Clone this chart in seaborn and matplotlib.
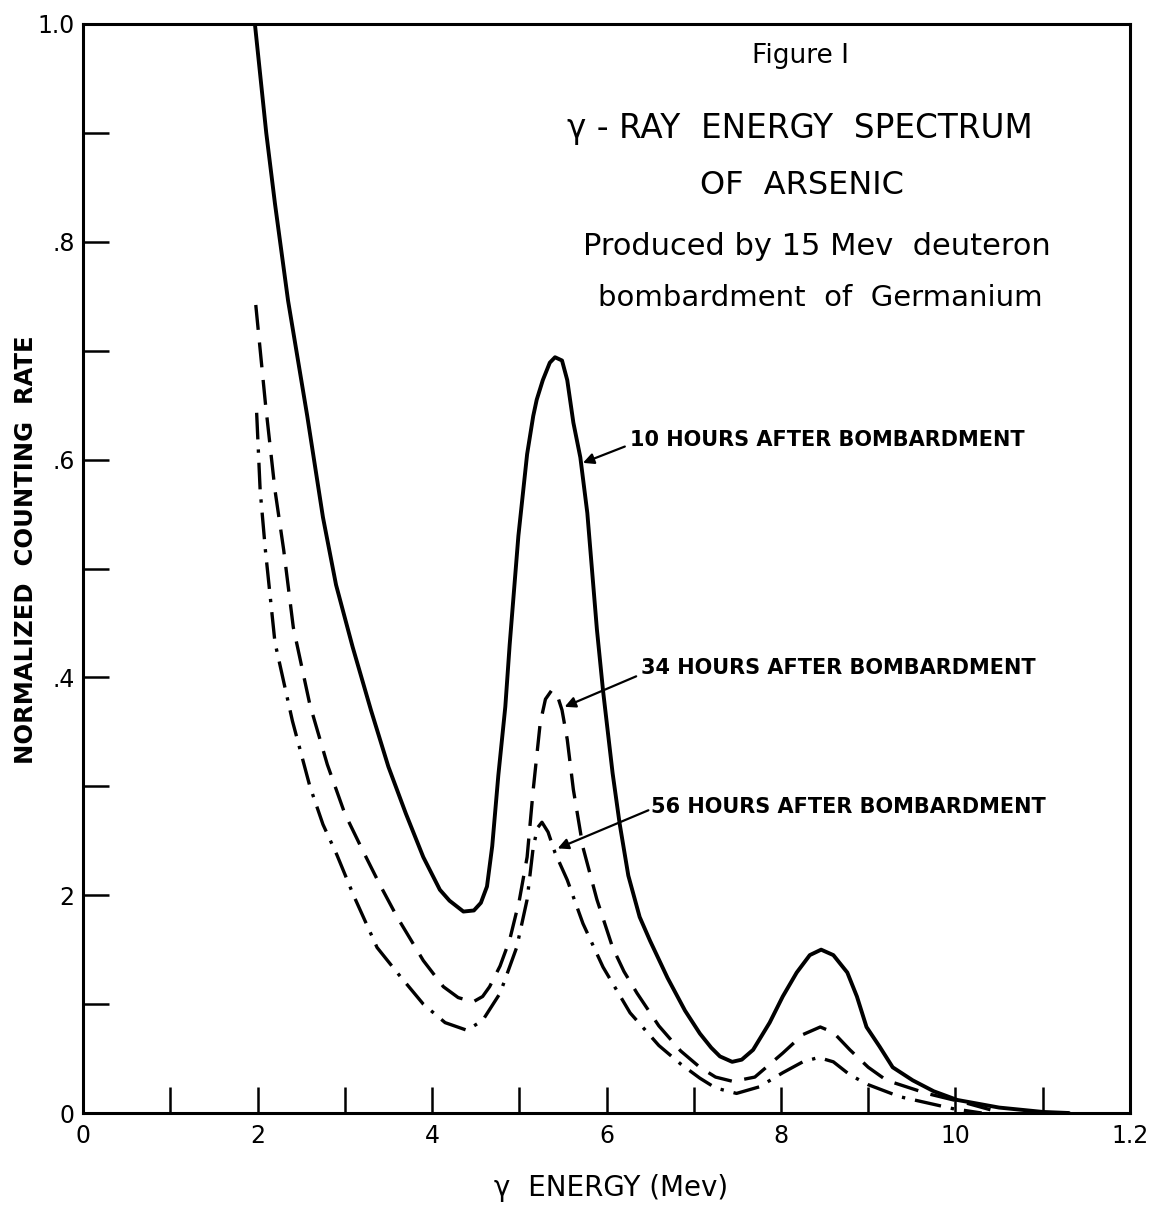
import numpy as np
import pandas as pd
import matplotlib
matplotlib.use("Agg")
import matplotlib.pyplot as plt
import seaborn as sns

# ---- data ----
x_10h = [1.97, 2.10, 2.20, 2.35, 2.57, 2.75, 2.90, 3.09, 3.30, 3.50, 3.70, 3.90, 4.09, 4.20,
         4.36, 4.48, 4.56, 4.63, 4.69, 4.76, 4.84, 4.89, 4.99, 5.09, 5.16, 5.20, 5.27, 5.35,
         5.41, 5.49, 5.55, 5.62, 5.70, 5.78, 5.89, 5.96, 6.07, 6.15, 6.25, 6.38, 6.50, 6.70,
         6.90, 7.07, 7.20, 7.30, 7.44, 7.55, 7.68, 7.87, 8.02, 8.18, 8.33, 8.46, 8.60, 8.76,
         8.87, 8.98, 9.13, 9.28, 9.51, 9.75, 10.02, 10.50, 11.00, 11.30]
y_10h = [1.000, 0.900, 0.835, 0.746, 0.640, 0.547, 0.485, 0.428, 0.370, 0.318, 0.275, 0.235, 0.205, 0.195,
         0.185, 0.186, 0.193, 0.208, 0.245, 0.310, 0.373, 0.430, 0.530, 0.605, 0.640, 0.655, 0.673, 0.689,
         0.694, 0.691, 0.673, 0.634, 0.602, 0.551, 0.444, 0.388, 0.312, 0.266, 0.218, 0.180, 0.158, 0.124,
         0.094, 0.073, 0.060, 0.052, 0.047, 0.049, 0.058, 0.083, 0.107, 0.129, 0.145, 0.150, 0.145, 0.129,
         0.107, 0.079, 0.061, 0.042, 0.030, 0.020, 0.012, 0.005, 0.001, 0.000]

x_34h = [1.98, 2.09, 2.20, 2.30, 2.41, 2.60, 2.80, 3.00, 3.20, 3.40, 3.60, 3.90, 4.13, 4.30,
         4.47, 4.58, 4.66, 4.78, 4.89, 5.00, 5.09, 5.16, 5.24, 5.30, 5.37, 5.43, 5.49, 5.55,
         5.62, 5.73, 5.89, 6.07, 6.20, 6.35, 6.60, 6.85, 7.07, 7.25, 7.45, 7.70, 8.02, 8.25,
         8.45, 8.60, 8.79, 9.00, 9.21, 9.67, 10.13, 10.40]
y_34h = [0.742, 0.652, 0.572, 0.517, 0.446, 0.375, 0.320, 0.275, 0.242, 0.210, 0.180, 0.140, 0.116, 0.106,
         0.102, 0.107, 0.116, 0.135, 0.159, 0.195, 0.235, 0.297, 0.358, 0.380, 0.388, 0.385, 0.370, 0.343,
         0.297, 0.244, 0.196, 0.152, 0.130, 0.110, 0.080, 0.057, 0.042, 0.033, 0.029, 0.033, 0.055, 0.072,
         0.079, 0.074, 0.058, 0.042, 0.030, 0.018, 0.009, 0.003]

x_56h = [1.99, 2.03, 2.09, 2.20, 2.40, 2.60, 2.75, 2.91, 3.10, 3.37, 3.61, 3.90, 4.15, 4.40,
         4.58, 4.78, 4.97, 5.09, 5.16, 5.21, 5.26, 5.33, 5.41, 5.55, 5.73, 5.96, 6.27, 6.60,
         6.85, 7.07, 7.25, 7.49, 7.75, 8.02, 8.25, 8.43, 8.60, 8.79, 9.00, 9.36, 9.97, 10.30]
y_56h = [0.643, 0.572, 0.517, 0.432, 0.360, 0.300, 0.265, 0.237, 0.200, 0.152, 0.128, 0.100, 0.083, 0.076,
         0.085, 0.110, 0.152, 0.196, 0.244, 0.262, 0.267, 0.258, 0.239, 0.214, 0.174, 0.134, 0.092, 0.062,
         0.045, 0.032, 0.023, 0.018, 0.024, 0.037, 0.047, 0.051, 0.047, 0.035, 0.026, 0.015, 0.004, 0.000]

x_ticks = list(range(0, 13))
x_ticklabels = ["0", "", "2", "", "4", "", "6", "", "8", "", "10", "", "1.2"]
y_ticks = [0.0, 0.1, 0.2, 0.3, 0.4, 0.5, 0.6, 0.7, 0.8, 0.9, 1.0]
y_ticklabels = ["0", "", "2", "", ".4", "", ".6", "", ".8", "", "1.0"]

series_labels = ["10 HOURS AFTER BOMBARDMENT", "34 HOURS AFTER BOMBARDMENT",
                 "56 HOURS AFTER BOMBARDMENT"]

# ---- figure ----
sns.set_theme(style="white")
plt.rcParams["font.family"] = ["DejaVu Sans"]
plt.rcParams["text.color"] = "black"
plt.rcParams["axes.labelcolor"] = "black"

fig = plt.figure(figsize=(11.5, 12.06), dpi=100)
ax = fig.add_axes([0.0722, 0.0771, 0.9104, 0.903])

df10 = pd.DataFrame({"x": x_10h, "y": y_10h})
df34 = pd.DataFrame({"x": x_34h, "y": y_34h})
df56 = pd.DataFrame({"x": x_56h, "y": y_56h})

sns.lineplot(data=df10, x="x", y="y", ax=ax, color="black", lw=2.8,
             sort=False, estimator=None)
sns.lineplot(data=df34, x="x", y="y", ax=ax, color="black", lw=2.4,
             sort=False, estimator=None, linestyle=(0, (7.5, 3.8)))
sns.lineplot(data=df56, x="x", y="y", ax=ax, color="black", lw=2.4,
             sort=False, estimator=None, linestyle=(0, (8, 3, 1, 3)))
for ln in ax.lines:
    ln.set_solid_joinstyle("round")
    ln.set_dash_joinstyle("round")

ax.set_xlim(0, 12)
ax.set_ylim(0, 1.0)
ax.set_xticks(x_ticks)
ax.set_xticklabels(x_ticklabels)
ax.set_yticks(y_ticks)
ax.set_yticklabels(y_ticklabels)
ax.tick_params(axis="both", which="major", direction="in", length=19, width=1.8,
               color="black", labelsize=17, labelcolor="black",
               bottom=True, left=True, top=False, right=False)
ax.tick_params(axis="x", pad=8)
ax.tick_params(axis="y", pad=6)
for s in ax.spines.values():
    s.set_color("black")
    s.set_linewidth(2.2)

ax.set_xlabel("γ  ENERGY (Mev)", fontsize=20, color="black")
ax.xaxis.set_label_coords(0.504, -0.056)
ax.set_ylabel("NORMALIZED  COUNTING  RATE", fontsize=17.5, fontweight="bold",
              color="black")
ax.yaxis.set_label_coords(-0.043, 0.517)

# ---- titles ----
ax.text(8.22, 0.971, "Figure I", ha="center", va="center", fontsize=19, color="black")
ax.text(8.22, 0.904, "γ - RAY  ENERGY  SPECTRUM", ha="center", va="center", fontsize=23.5, color="black")
ax.text(8.24, 0.852, "OF  ARSENIC", ha="center", va="center", fontsize=23, color="black")
ax.text(8.41, 0.796, "Produced by 15 Mev  deuteron", ha="center", va="center", fontsize=22, color="black")
ax.text(8.45, 0.748, "bombardment  of  Germanium", ha="center", va="center", fontsize=21, color="black")

# ---- series labels with arrows ----
arrow_kw = dict(arrowstyle="-|>", color="black", lw=1.6, mutation_scale=16,
                shrinkA=0, shrinkB=0)
ax.annotate("", xy=(5.73, 0.597), xytext=(6.21, 0.612), arrowprops=arrow_kw)
ax.text(6.27, 0.618, series_labels[0], ha="left", va="center", fontsize=15,
        fontweight="bold", color="black")
ax.annotate("", xy=(5.52, 0.373), xytext=(6.34, 0.401), arrowprops=arrow_kw)
ax.text(6.40, 0.409, series_labels[1], ha="left", va="center", fontsize=15,
        fontweight="bold", color="black")
ax.annotate("", xy=(5.44, 0.243), xytext=(6.48, 0.278), arrowprops=arrow_kw)
ax.text(6.51, 0.281, series_labels[2], ha="left", va="center", fontsize=15,
        fontweight="bold", color="black")

fig.savefig("out.png", dpi=100, facecolor="white")
